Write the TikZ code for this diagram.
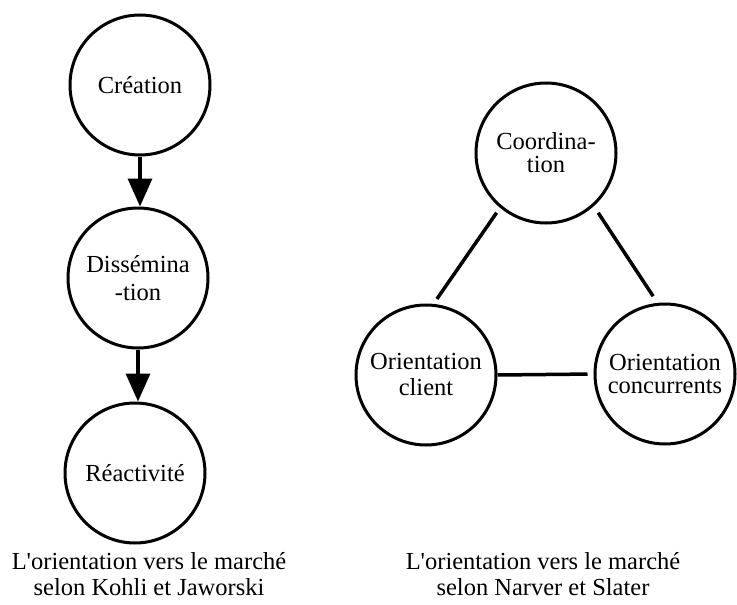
\documentclass[tikz,border=0pt]{standalone}
\usepackage{fontspec}
\setmainfont{Liberation Serif}
\usetikzlibrary{arrows.meta}
\begin{document}
\begin{tikzpicture}[x=1pt,y=-1pt,
  bubble/.style={circle,draw,line width=3pt,minimum size=140pt,inner sep=0pt,align=center,font=\fontsize{24.5}{25}\selectfont},
  link/.style={line width=3.5pt},
  flow/.style={line width=3.5pt,-{Triangle[length=28pt,width=24pt]}},
  caption/.style={align=center,font=\fontsize{24.5}{26}\selectfont}]
\useasboundingbox[fill=white] (0,0) rectangle (737,605);
% left diagram
\node[bubble] (crea) at (140,85) {Création};
\node[bubble,font=\fontsize{24.5}{28}\selectfont] (diss) at (138,278) {Dissémina\\-tion};
\node[bubble] (reac) at (135,473) {Réactivité};
\draw[flow] (crea.south) -- (crea.south |- diss.north);
\draw[flow] (diss.south) -- (diss.south |- reac.north);
% right diagram
\node[bubble,font=\fontsize{24.5}{23}\selectfont] (coord) at (546,153) {Coordina-\\tion};
\node[bubble,font=\fontsize{24.5}{26}\selectfont] (client) at (426,375) {Orientation\\client};
\node[bubble,font=\fontsize{24.5}{23}\selectfont] (conc) at (665,374) {Orientation\\concurrents};
\draw[link,shorten <=6pt,shorten >=6pt] (coord.230) -- (client.84);
\draw[link,shorten <=8pt,shorten >=8pt] (coord.312) -- (conc.96);
\draw[link,shorten >=6pt] (client.east) -- (conc.west);
% captions
\node[caption,anchor=base] (capL) at (149,595) {L\textquotesingle orientation vers le marché\\selon Kohli et Jaworski};
\node[caption,anchor=base] (capR) at (543,595) {L\textquotesingle orientation vers le marché\\selon Narver et Slater};
\end{tikzpicture}
\end{document}
